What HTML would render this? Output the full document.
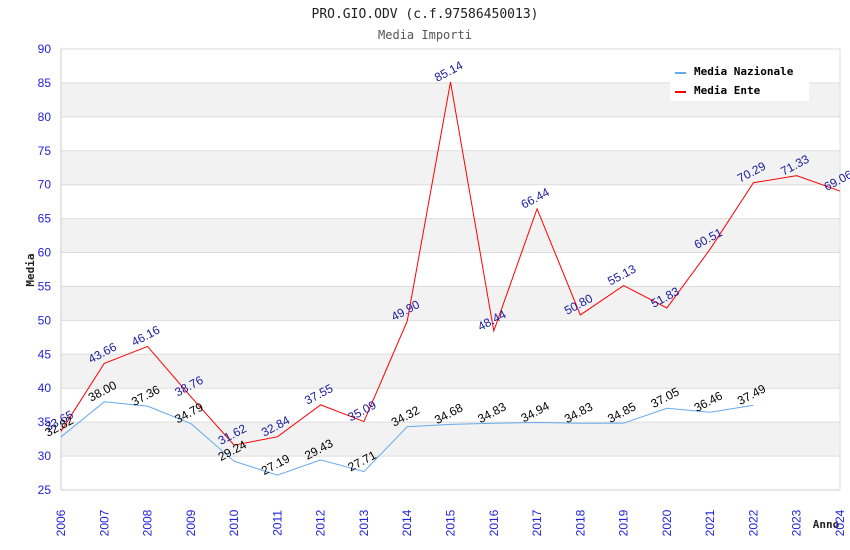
<!DOCTYPE html>
<html><head><meta charset="utf-8"><style>
body{margin:0;background:#fff}
svg{display:block}
text{font-family:"Liberation Sans",sans-serif}
.mono{font-family:"DejaVu Sans Mono","Liberation Mono",monospace}
</style></head><body>
<svg id="chart" width="850" height="550">
<text class="mono" x="425" y="18" text-anchor="middle" font-size="13" fill="#222">PRO.GIO.ODV (c.f.97586450013)</text>
<text class="mono" x="425" y="39" text-anchor="middle" font-size="12" fill="#555">Media Importi</text>
<text class="mono" x="0" y="0" transform="translate(34,270) rotate(-90)" text-anchor="middle" font-size="11" font-weight="bold" fill="#222">Media</text>
<text class="mono" x="826" y="528" text-anchor="middle" font-size="11" font-weight="bold" fill="#222">Anno</text>
<g id="bands"></g><g id="grid"></g><g id="axes"></g><g id="series"></g><g id="labels"></g>
<g>
<rect x="670" y="60" width="139" height="41" fill="#fff"/>
<g>
<rect x="675" y="72" width="11" height="2" fill="#66aaee"/>
<text class="mono" x="694" y="75" font-size="11" font-weight="bold" fill="#000">Media Nazionale</text></g>
<g>
<rect x="675" y="91" width="11" height="2" fill="#ff0000"/>
<text class="mono" x="694" y="94" font-size="11" font-weight="bold" fill="#000">Media Ente</text></g>
</g>
</svg>
<script>
const years=[2006,2007,2008,2009,2010,2011,2012,2013,2014,2015,2016,2017,2018,2019,2020,2021,2022,2023,2024];
const enteValues=[33.65,43.66,46.16,38.76,31.62,32.84,37.55,35.09,49.90,85.14,48.44,66.44,50.80,55.13,51.83,60.51,70.29,71.33,69.06];
const nazionaleValues=[32.82,38.00,37.36,34.79,29.24,27.19,29.43,27.71,34.32,34.68,34.83,34.94,34.83,34.85,37.05,36.46,37.49];
const yTicks=[25,30,35,40,45,50,55,60,65,70,75,80,85,90];
const NS='http://www.w3.org/2000/svg';
const L=61,R=840,T=49,B=490,yMin=25,yMax=90;
const xS=i=>L+(R-L)*i/(years.length-1);
const yS=v=>B-(v-yMin)/(yMax-yMin)*(B-T);
function mk(tag,attrs,parent){const e=document.createElementNS(NS,tag);for(const k in attrs)e.setAttribute(k,attrs[k]);document.getElementById(parent).appendChild(e);return e;}
for(let i=0;i<yTicks.length-1;i++){
  if(yTicks[i]%10===0){
    const b=mk('rect',{x:L,y:yS(yTicks[i]+5),width:R-L,height:yS(yTicks[i])-yS(yTicks[i]+5),fill:'#f2f2f2'},'bands');
    
    
  }
}
yTicks.forEach(t=>{
  const g=mk('line',{x1:L,x2:R,y1:yS(t),y2:yS(t),stroke:'#dddddd'},'grid');
  
  
  const tx=mk('text',{x:L-10,y:yS(t)+4,'text-anchor':'end','font-size':12,fill:'#2222dd'},'axes');
  tx.textContent=t;
  
  
});
mk('line',{x1:L,x2:L,y1:T,y2:B,stroke:'#ccc'},'axes');
mk('line',{x1:L,x2:R,y1:B,y2:B,stroke:'#ccc'},'axes');
mk('line',{x1:R,x2:R,y1:T,y2:B,stroke:'#ddd'},'axes');
years.forEach((y,i)=>{
  const tx=mk('text',{x:0,y:0,transform:`translate(${xS(i)+4},${B+33}) rotate(-90)`,'text-anchor':'middle','font-size':12,fill:'#2222dd'},'axes');
  tx.textContent=y;
  
  
});
function series(vals,color,lblColor,name){
  const p=mk('polyline',{points:vals.map((v,i)=>xS(i)+','+yS(v)).join(' '),fill:'none',stroke:color,'stroke-width':1},'series');
  
  
  vals.forEach((v,i)=>{
    const t=mk('text',{x:0,y:0,transform:`translate(${xS(i)},${yS(v)-7}) rotate(-28)`,'text-anchor':'middle','font-size':12,fill:lblColor},'labels');
    t.textContent=v.toFixed(2);
    
    
  });
}
series(nazionaleValues,'#66aaee','#000','nazionale');
series(enteValues,'#ff0000','#1a1aa0','ente');
</script>
</body></html>
